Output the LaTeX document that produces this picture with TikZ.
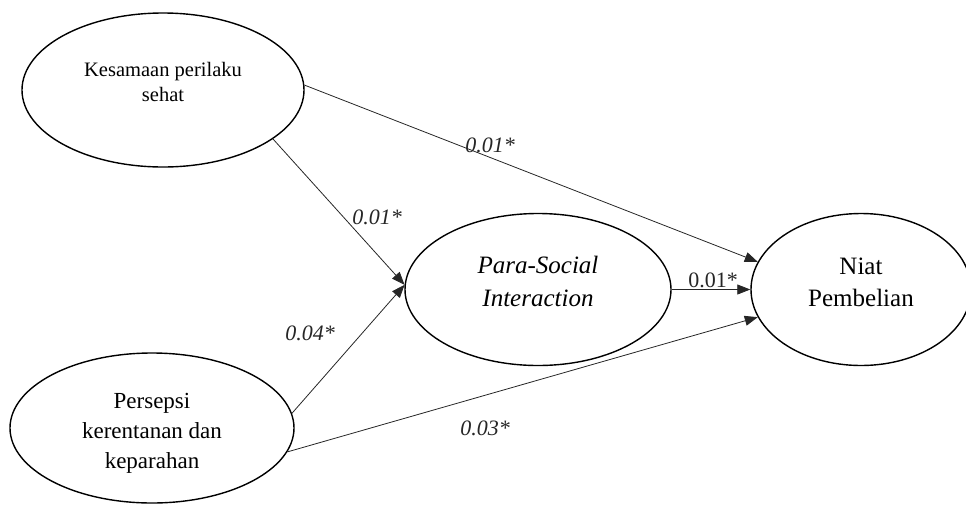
\documentclass[tikz,border=0pt]{standalone}
\usepackage{fontspec}
\setmainfont{Liberation Serif}
\usetikzlibrary{shapes.geometric,arrows.meta}
\tikzset{
  construct/.style={ellipse, draw=black, line width=1.4pt, inner sep=0pt, align=center, text=black},
  ctext/.style={inner sep=0pt, align=center, text=black},
  path/.style={draw=black!85, line width=0.8pt, -{Triangle[length=13pt,width=10pt]}},
  coef/.style={inner sep=0pt, font=\fontsize{22}{26}\selectfont\itshape, text=black!85},
}
\begin{document}
\begin{tikzpicture}[x=1pt,y=-1pt]
\useasboundingbox (0,0) rectangle (966,504);
\node[construct, minimum width=282pt, minimum height=154pt, font=\fontsize{20.5}{25}\selectfont] (k1) at (163,90) {Kesamaan perilaku\\sehat\\[-8pt]};
\node[construct, minimum width=284pt, minimum height=150pt] (k2) at (152,428) {};
\node[construct, minimum width=266pt, minimum height=152pt] (psi) at (538,289.5) {};
\node[construct, minimum width=220pt, minimum height=152pt] (niat) at (861,289.5) {};
\node[ctext, font=\fontsize{23}{30}\selectfont] (k2t) at ([yshift=-5pt]k2.center) {Persepsi\\kerentanan dan\\keparahan};
\node[ctext, font=\fontsize{25}{33}\selectfont\itshape] (psit) at ([yshift=8pt]psi.center) {Para-Social\\Interaction};
\node[ctext, font=\fontsize{25}{32}\selectfont] (niatt) at ([yshift=7.5pt]niat.center) {Niat\\Pembelian};

\draw[path] (k1.2) -- (niat.165.8);
\draw[path] (k1.-24.9) -- (psi.178.5);
\draw[path] (k2.6.2) -- (psi.178.5);
\draw[path] (k2.-10.5) -- (niat.-165.2);
\draw[path] (psi.east) -- (niat.west);

\node[coef] (c1) at (490,145) {0.01*};
\node[coef] (c2) at (377,217) {0.01*};
\node[coef] (c3) at (310,333) {0.04*};
\node[coef, font=\fontsize{22}{26}\selectfont\upshape] (c4) at (713,280) {0.01*};
\node[coef] (c5) at (485,428) {0.03*};
\end{tikzpicture}
\end{document}
